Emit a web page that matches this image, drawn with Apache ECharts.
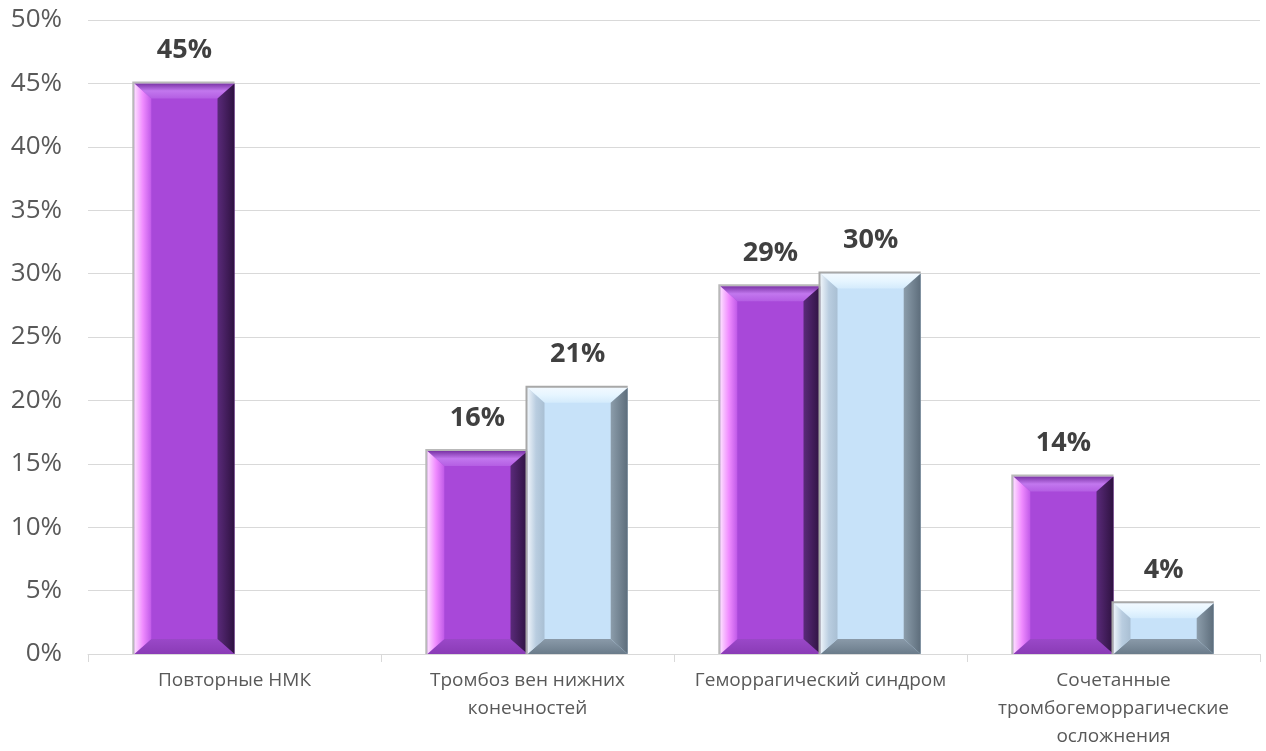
<!DOCTYPE html>
<html>
<head>
<meta charset="utf-8">
<script src="https://cdn.jsdelivr.net/npm/echarts@6/dist/echarts.min.js"></script>
<style>
  html, body { margin: 0; padding: 0; background: #ffffff; }
  #chart { width: 1266px; height: 751px; }
</style>
</head>
<body>
<div id="chart"></div>
<script>
// Complication categories
const categories = [
  'Повторные НМК',
  'Тромбоз вен нижних\nконечностей',
  'Геморрагический синдром',
  'Сочетанные\nтромбогеморрагические\nосложнения'
];
// Share of patients, % (first group — purple, second group — light blue)
const groupPurple = [45, 16, 29, 14];
const groupBlue = [null, 21, 30, 4];
// Y axis ticks, %
const yMin = 0;
const yMax = 50;
const yStep = 5;

// Bevel palettes for the two groups
const palettes = [
  {
    face: '#a848d9',
    top: ['#7a34a6', '#c277ee', '#b45ee3'],
    bottom: ['#9a48c8', '#8a3bb6'],
    left: ['#fde0ff', '#f08cff', '#c05ae8'],
    right: ['#5a2a7a', '#2e1240'],
    outline: '#b9b9b9'
  },
  {
    face: '#c7e2f9',
    top: ['#f2f9ff', '#e6f5ff', '#d4ebfc'],
    bottom: ['#8a9aa9', '#6a7b8a'],
    left: ['#eef4fa', '#b9cde0', '#a9bfd3'],
    right: ['#8c9dab', '#5d6d7b'],
    outline: '#a8a8a8'
  }
];

function linear(x0, y0, x1, y1, stops) {
  return new echarts.graphic.LinearGradient(x0, y0, x1, y1,
    stops.map((c, i) => ({ offset: i / (stops.length - 1), color: c })));
}

function bevelBar(seriesIdx) {
  return function (params, api) {
    const val = api.value(1);
    if (val === null || val === undefined || isNaN(val)) return;
    const cat = api.value(0);
    const base = api.coord([cat, 0]);
    const topPt = api.coord([cat, val]);
    const band = api.size([1, 0])[0];
    const bw = band * 0.342;
    const x0 = seriesIdx === 0 ? base[0] - bw : base[0];
    const x1 = x0 + bw;
    const y0 = topPt[1];
    const y1 = base[1];
    const b = Math.min(17, (y1 - y0) / 2);
    const bt = Math.min(15, (y1 - y0) / 2);
    const p = palettes[seriesIdx];
    return {
      type: 'group',
      children: [
        { type: 'rect', shape: { x: x0, y: y0, width: x1 - x0, height: y1 - y0 },
          style: { fill: p.face } },
        { type: 'polygon',
          shape: { points: [[x0, y0], [x1, y0], [x1 - b, y0 + bt], [x0 + b, y0 + bt]] },
          style: { fill: linear(0, 0, 0, 1, p.top) } },
        { type: 'polygon',
          shape: { points: [[x0, y1], [x1, y1], [x1 - b, y1 - bt], [x0 + b, y1 - bt]] },
          style: { fill: linear(0, 0, 0, 1, p.bottom) } },
        { type: 'polygon',
          shape: { points: [[x0, y0], [x0 + b, y0 + bt], [x0 + b, y1 - bt], [x0, y1]] },
          style: { fill: linear(0, 0, 1, 0, p.left) } },
        { type: 'polygon',
          shape: { points: [[x1, y0], [x1 - b, y0 + bt], [x1 - b, y1 - bt], [x1, y1]] },
          style: { fill: linear(0, 0, 1, 0, p.right) } },
        { type: 'polyline',
          shape: { points: [[x0 - 1, y1], [x0 - 1, y0 - 1], [x1, y0 - 1]] },
          style: { stroke: p.outline, lineWidth: 2, fill: null } },
        { type: 'text',
          style: {
            text: val + '%',
            x: (x0 + x1) / 2,
            y: y0 - 33,
            align: 'center',
            verticalAlign: 'middle',
            font: 'bold 27px "Open Sans", sans-serif',
            fill: '#404040'
          } }
      ]
    };
  };
}

function seriesData(values) {
  return values.map((v, i) => [i, v]);
}

const chart = echarts.init(document.getElementById('chart'), null, { renderer: 'canvas' });
chart.setOption({
  animation: false,
  backgroundColor: '#ffffff',
  grid: { left: 88, right: 6, top: 20, bottom: 90, containLabel: false },
  xAxis: {
    type: 'category',
    data: categories,
    boundaryGap: true,
    axisLine: { show: true, lineStyle: { color: '#d9d9d9', width: 1 } },
    axisTick: { show: true, alignWithLabel: false, length: 8, lineStyle: { color: '#d9d9d9' } },
    axisLabel: {
      interval: 0,
      margin: 13,
      color: '#595959',
      fontFamily: 'Open Sans',
      fontSize: 19,
      lineHeight: 28
    }
  },
  yAxis: {
    type: 'value',
    min: yMin,
    max: yMax,
    interval: yStep,
    axisLine: { show: false },
    axisTick: { show: false },
    splitLine: { lineStyle: { color: '#d9d9d9', width: 1 } },
    axisLabel: {
      formatter: '{value}%',
      margin: 26,
      color: '#595959',
      fontFamily: 'Open Sans',
      fontSize: 26
    }
  },
  series: [
    { type: 'custom', renderItem: bevelBar(0), data: seriesData(groupPurple),
      encode: { x: 0, y: 1 }, clip: false },
    { type: 'custom', renderItem: bevelBar(1), data: seriesData(groupBlue),
      encode: { x: 0, y: 1 }, clip: false }
  ]
});
</script>
</body>
</html>
